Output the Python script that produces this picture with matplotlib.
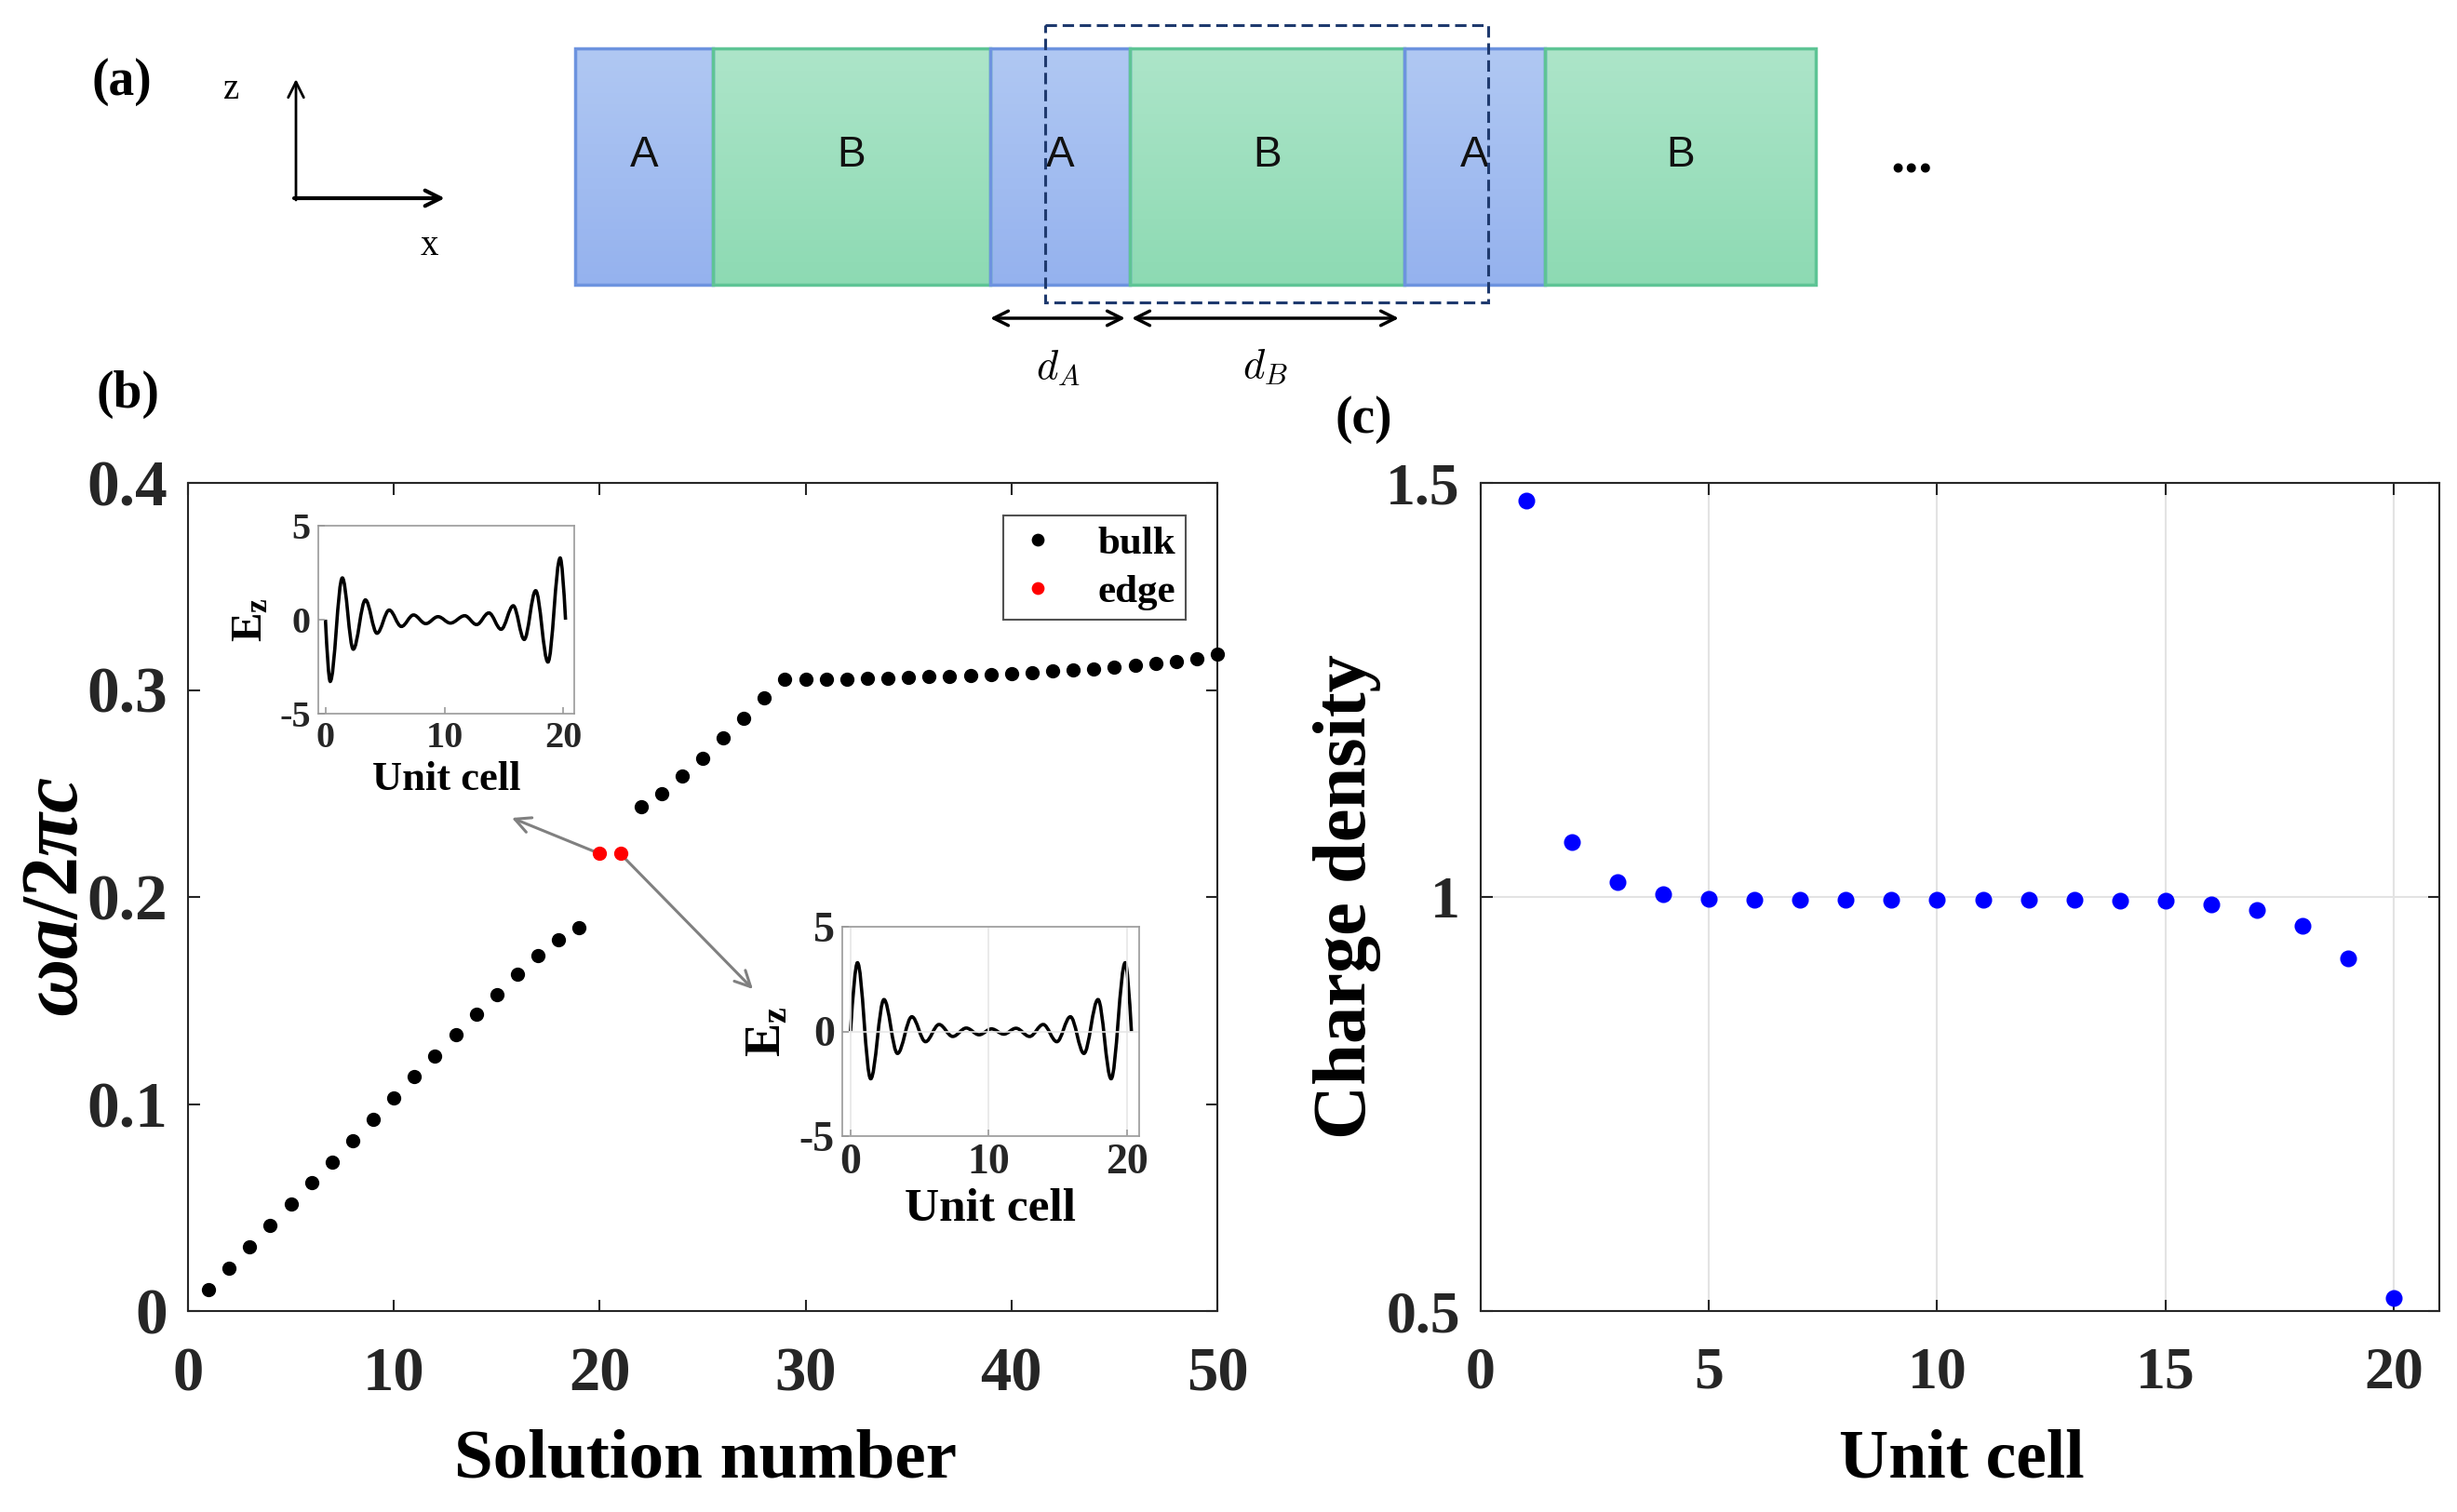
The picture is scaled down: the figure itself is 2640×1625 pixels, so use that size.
import numpy as np
import matplotlib
matplotlib.use("Agg")
import matplotlib.pyplot as plt
from matplotlib.path import Path
from matplotlib.patches import PathPatch, Rectangle
from matplotlib.colors import LinearSegmentedColormap

plt.rcParams['font.family'] = ['Liberation Serif', 'DejaVu Serif']
plt.rcParams['font.weight'] = 'bold'
plt.rcParams['axes.labelweight'] = 'bold'
plt.rcParams['axes.unicode_minus'] = False
plt.rcParams['mathtext.fontset'] = 'custom'
plt.rcParams['mathtext.rm'] = 'Liberation Serif:bold'
plt.rcParams['mathtext.it'] = 'Liberation Serif:italic:bold'
plt.rcParams['mathtext.bf'] = 'Liberation Serif:bold'

W, H = 2640, 1625

# ---- data ----
# (a) layer stack (pixel columns of the schematic)
layer_names = ["A", "B", "A", "B", "A", "B"]
layer_edges = [618, 766, 1064, 1214, 1509, 1660, 1951]
layer_top, layer_bottom = 52, 306
cell_box = (1123, 1599, 27, 325)          # x0, x1, y0, y1 of dashed unit cell
dA_span = (1064, 1209)
dB_span = (1216, 1503)

# (b) eigen frequencies
solution_number = list(range(1, 51))
freq = [0.0103, 0.0206, 0.0309, 0.0414, 0.0515, 0.0620, 0.0721, 0.0824, 0.0928, 0.1030,
        0.1134, 0.1233, 0.1333, 0.1432, 0.1530, 0.1625, 0.1715, 0.1794, 0.1853, 0.2209,
        0.2209, 0.2434, 0.2501, 0.2584, 0.2670, 0.2767, 0.2863, 0.2961, 0.3051, 0.3051,
        0.3051, 0.3052, 0.3055, 0.3057, 0.3060, 0.3063, 0.3066, 0.3070, 0.3075, 0.3079,
        0.3085, 0.3090, 0.3096, 0.3103, 0.3110, 0.3118, 0.3128, 0.3139, 0.3152, 0.3172]
edge_modes = [20, 21]
arrow1_tip = (15.73, 0.2382)
arrow2_tip = (27.44, 0.1555)

# insets: field profile extrema (unit cell, Ez)
ez1_x = [0, 0.4, 1.42, 2.34, 3.36, 4.33, 5.36, 6.38, 7.4, 8.43, 9.46, 10.5, 11.7,
         12.7, 13.73, 14.76, 15.78, 16.7, 17.66, 18.69, 19.72, 20.17]
ez1_y = [0, -3.28, 2.22, -1.57, 1.05, -0.72, 0.51, -0.36, 0.25, -0.21, 0.16, -0.18,
         0.21, -0.26, 0.36, -0.51, 0.74, -1.05, 1.54, -2.25, 3.28, 0]
ez2_x = [0, 0.5, 1.46, 2.42, 3.4, 4.44, 5.43, 6.41, 7.4, 8.38, 9.31, 10.21, 11.1,
         11.98, 12.97, 13.95, 14.94, 15.92, 16.9, 17.92, 18.87, 19.89, 20.34]
ez2_y = [0, 3.28, -2.26, 1.52, -1.05, 0.70, -0.49, 0.33, -0.24, 0.16, -0.16, 0.12,
         -0.13, 0.15, -0.24, 0.33, -0.49, 0.70, -1.05, 1.52, -2.26, 3.28, 0]

# (c) charge density
unit_cell = list(range(1, 21))
charge = [1.479, 1.066, 1.018, 1.003, 0.998, 0.997, 0.997, 0.997, 0.997, 0.997,
          0.997, 0.997, 0.997, 0.996, 0.995, 0.991, 0.984, 0.965, 0.926, 0.516]

AXC = '#262626'


def fig_ax(x0, y0, x1, y1):
    # pixel box -> figure fraction axes
    return fig.add_axes([x0 / W, 1 - y1 / H, (x1 - x0) / W, (y1 - y0) / H])


def wave_path(xs, ys):
    verts = [(xs[0], ys[0])]
    codes = [Path.MOVETO]
    n = len(xs)
    for i in range(n - 1):
        x0, y0, x1, y1 = xs[i], ys[i], xs[i + 1], ys[i + 1]
        dx, dy = x1 - x0, y1 - y0
        if i == 0:
            c1 = (x0 + 0.33 * dx, y0 + 0.52 * dy)
            c2 = (x1 - 0.3 * dx, y1)
        elif i == n - 2:
            c1 = (x0 + 0.3 * dx, y0)
            c2 = (x1 - 0.33 * dx, y1 - 0.52 * dy)
        else:
            c1 = (x0 + 0.36 * dx, y0)
            c2 = (x1 - 0.36 * dx, y1)
        verts += [c1, c2, (x1, y1)]
        codes += [Path.CURVE4] * 3
    return Path(verts, codes)


def style_axes(ax, tick_size, pad, length=9, color=AXC, lw=1.5):
    ax.tick_params(direction='in', top=True, right=True, length=length, width=lw,
                   labelsize=tick_size, pad=pad, colors=AXC)
    ax.tick_params(colors=color, labelcolor=AXC)
    for s in ax.spines.values():
        s.set_color(color)
        s.set_linewidth(lw)


fig = plt.figure(figsize=(W / 100, H / 100), dpi=100)

# ---------------- (a) schematic ----------------
axa = fig.add_axes([0, 1 - 420 / H, 1, 420 / H])
axa.set_xlim(0, W)
axa.set_ylim(420, 0)
axa.axis('off')
cm_a = LinearSegmentedColormap.from_list('a', ['#b0c8f3', '#95b2ee'])
cm_b = LinearSegmentedColormap.from_list('b', ['#ade5c9', '#8ddab3'])
grad = np.linspace(0, 1, 64).reshape(-1, 1)
for name, x0, x1 in zip(layer_names, layer_edges[:-1], layer_edges[1:]):
    cmap = cm_a if name == "A" else cm_b
    edge = '#6d93df' if name == "A" else '#5ec495'
    axa.imshow(grad, extent=(x0, x1, layer_bottom, layer_top), origin='upper',
               cmap=cmap, aspect='auto', zorder=1)
    axa.add_patch(Rectangle((x0, layer_top), x1 - x0, layer_bottom - layer_top,
                            fill=False, edgecolor=edge, lw=2.5, zorder=2))
    axa.text((x0 + x1) / 2, (layer_top + layer_bottom) / 2 - 12, name,
             family='Liberation Sans', weight='normal', fontsize=33,
             ha='center', va='center', color='#111111', zorder=3)
bx0, bx1, by0, by1 = cell_box
axa.add_patch(Rectangle((bx0, by0), bx1 - bx0, by1 - by0, fill=False,
                        edgecolor='#1f3a6e', lw=2.2, ls=(0, (4, 2)), zorder=4))
for span, lab in [(dA_span, r'$d_A$'), (dB_span, r'$d_B$')]:
    axa.annotate('', xy=(span[0], 342), xytext=(span[1], 342),
                 arrowprops=dict(arrowstyle='<->', lw=2.5, color='k',
                                 mutation_scale=28, shrinkA=0, shrinkB=0))
    axa.text(sum(span) / 2, 395, lab, math_fontfamily='cm', fontsize=32,
             ha='center', va='center', weight='normal')
axa.annotate('', xy=(318, 85), xytext=(318, 215),
             arrowprops=dict(arrowstyle='->', lw=2, color='k', mutation_scale=30,
                             shrinkA=0, shrinkB=0))
axa.annotate('', xy=(478, 213), xytext=(316, 213),
             arrowprops=dict(arrowstyle='->', lw=3, color='k', mutation_scale=30,
                             shrinkA=0, shrinkB=0))
axa.text(249, 97, 'z', fontsize=28, weight='normal', ha='center', va='center')
axa.text(461, 265, 'x', fontsize=28, weight='normal', ha='center', va='center')
axa.text(2054, 170, '...', fontsize=44, weight='bold', ha='center', va='center')

# ---------------- (b) dispersion ----------------
axb = fig_ax(202, 519, 1308, 1409)
bulk_x = [n for n in solution_number if n not in edge_modes]
bulk_y = [f for n, f in zip(solution_number, freq) if n not in edge_modes]
edge_x = [n for n in solution_number if n in edge_modes]
edge_y = [f for n, f in zip(solution_number, freq) if n in edge_modes]
axb.plot(bulk_x, bulk_y, 'o', color='k', ms=11, mec='none', label='bulk', clip_on=False, zorder=3)
axb.plot(edge_x, edge_y, 'o', color='#ff0000', ms=11, mec='none', label='edge', zorder=3)
axb.set_xlim(0, 50)
axb.set_ylim(0, 0.4)
axb.set_xticks([0, 10, 20, 30, 40, 50])
axb.set_yticks([0, 0.1, 0.2, 0.3, 0.4])
axb.set_yticklabels(['0', '0.1', '0.2', '0.3', '0.4'])
style_axes(axb, 48, 16)
axb.tick_params(axis='y', labelsize=50)
axb.tick_params(axis='x', pad=28)
axb.set_xlabel('Solution number', fontsize=54, va='center')
axb.xaxis.set_label_coords(0.503, -0.18)
axb.set_ylabel(r'$\omega a/2\pi c$', fontsize=62, va='center')
axb.yaxis.set_label_coords(-0.126, 0.5)
leg = axb.legend(loc='upper right', bbox_to_anchor=(0.969, 0.961), fontsize=31,
                 frameon=True, fancybox=False, borderpad=0.25, handletextpad=0.9,
                 labelspacing=0.3, handlelength=1.2, borderaxespad=0, markerscale=0.9)
leg.get_frame().set_edgecolor(AXC)
leg.get_frame().set_linewidth(1.5)
axb.annotate('', xy=arrow1_tip, xytext=(edge_x[0], edge_y[0]),
             arrowprops=dict(arrowstyle='->', color='#808080', lw=2.2,
                             mutation_scale=30, shrinkA=0, shrinkB=0), zorder=2)
axb.annotate('', xy=arrow2_tip, xytext=(edge_x[1], edge_y[1]),
             arrowprops=dict(arrowstyle='->', color='#808080', lw=2.2,
                             mutation_scale=30, shrinkA=0, shrinkB=0), zorder=2)

# insets
for box, xs, ys, tsize, lsize, grid in [((342, 565, 617, 767), ez1_x, ez1_y, 29, 32, False),
                                         ((905, 996, 1224, 1221), ez2_x, ez2_y, 33, 37, True)]:
    axi = fig_ax(*box)
    axi.add_patch(PathPatch(wave_path(xs, ys), facecolor='none', edgecolor='k', lw=2.6))
    axi.set_xlim(-0.6, 20.9)
    axi.set_ylim(-5, 5)
    axi.set_xticks([0, 10, 20])
    axi.set_yticks([-5, 0, 5])
    style_axes(axi, tsize, 6, length=5, color='#9a9a9a', lw=1.2)
    axi.tick_params(top=False, right=False)
    if grid:
        axi.grid(True, color='#e6e6e6', lw=1.2)
    axi.set_xlabel('Unit cell', fontsize=lsize, labelpad=4)
    axi.set_ylabel(r'$\mathbf{E_z}$', fontsize=lsize + 2, labelpad=6)

# ---------------- (c) charge density ----------------
axc = fig_ax(1591, 519, 2621, 1409)
axc.plot(unit_cell, charge, 'o', color='#0000ff', ms=13, mec='none', zorder=3)
axc.set_xlim(0, 21)
axc.set_ylim(0.5, 1.5)
axc.set_xticks([0, 5, 10, 15, 20])
axc.set_yticks([0.5, 1, 1.5])
axc.set_yticklabels(['0.5', '1', '1.5'])
axc.grid(True, color='#e3e3e3', lw=1.5)
axc.set_axisbelow(True)
style_axes(axc, 46, 16)
axc.tick_params(axis='x', pad=28)
axc.set_xlabel('Unit cell', fontsize=53, va='center')
axc.xaxis.set_label_coords(0.502, -0.18)
axc.set_ylabel('Charge density', fontsize=58, va='center')
axc.yaxis.set_label_coords(-0.139, 0.5)

# panel letters
for lab, px, py in [('(a)', 131, 88), ('(b)', 138, 424), ('(c)', 1465, 451)]:
    fig.text(px / W, 1 - py / H, lab, fontsize=40, weight='bold', ha='center', va='center')

fig.savefig('out.png', dpi=100)
